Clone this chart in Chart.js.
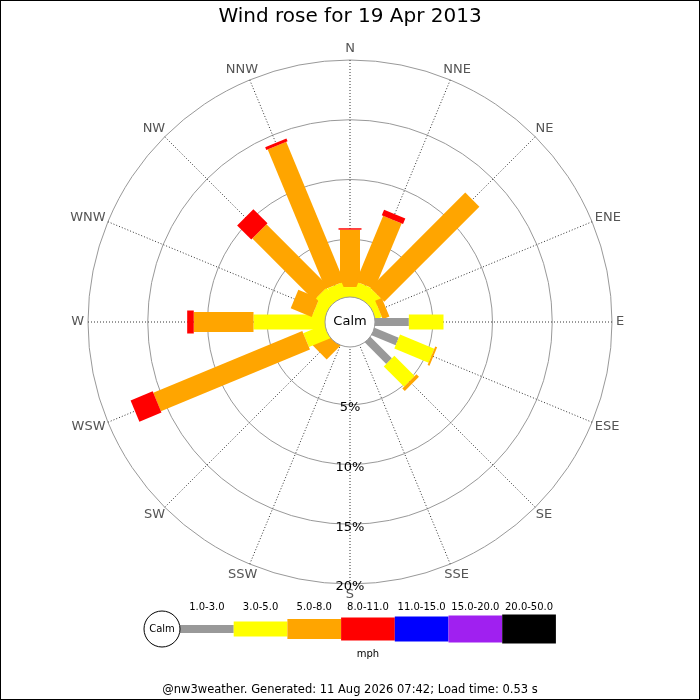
<!DOCTYPE html>
<html>
<head>
<meta charset="utf-8">
<title>Wind rose</title>
<script src="https://cdn.jsdelivr.net/npm/chart.js@4.4.1/dist/chart.umd.min.js"></script>
<style>
  html, body { margin: 0; padding: 0; background: #fff; }
  canvas { display: block; }
</style>
</head>
<body>
<canvas id="rose" width="700" height="700"></canvas>
<script>
// directions, clockwise from north
const directions = ['N', 'NNE', 'NE', 'ENE', 'E', 'ESE', 'SE', 'SSE', 'S', 'SSW', 'SW', 'WSW', 'W', 'WNW', 'NW', 'NNW'];

// speed bands (mph) and their colours / bar widths
const bandLabels = ['1.0-3.0', '3.0-5.0', '5.0-8.0', '8.0-11.0', '11.0-15.0', '15.0-20.0', '20.0-50.0'];
const bandColors = ['#999999', '#ffff00', '#ffa500', '#ff0000', '#0000ff', '#a020f0', '#000000'];
const bandWidths = [8, 15, 20, 23, 25, 27, 29];

// percent of time per direction for each band
const band1 = [0, 0, 0, 0, 3.0, 2.35, 2.7, 0, 0, 0, 0, 0, 0, 0, 0, 0];
const band2 = [1.0, 1.4, 1.3, 0.7, 2.9, 3.1, 2.4, 0, 0, 0, 0, 2.05, 6.15, 1.2, 1.5, 1.4];
const band3 = [4.8, 5.95, 11.25, 0.6, 0, 0.17, 0.3, 0, 0, 0, 1.67, 13.5, 5.0, 1.9, 7.3, 12.65];
const band4 = [0.12, 0.5, 0, 0, 0, 0, 0, 0, 0, 0, 0, 2.0, 0.55, 0, 1.67, 0.25];
const band5 = [0, 0, 0, 0, 0, 0, 0, 0, 0, 0, 0, 0, 0, 0, 0, 0];
const band6 = [0, 0, 0, 0, 0, 0, 0, 0, 0, 0, 0, 0, 0, 0, 0, 0];
const band7 = [0, 0, 0, 0, 0, 0, 0, 0, 0, 0, 0, 0, 0, 0, 0, 0];
const bands = [band1, band2, band3, band4, band5, band6, band7];

// radial rings
const ringTicks = [0, 5, 10, 15, 20];
const ringMin = -1.925;
const ringMax = 20;

const titleText = 'Wind rose for 19 Apr 2013';
const footerText = '@nw3weather. Generated: 11 Aug 2026 07:42; Load time: 0.53 s';

const FONT = '"DejaVu Sans", Verdana, sans-serif';

const rosePlugin = {
    id: 'rose',
    beforeDraw(chart) {
        const ctx = chart.ctx;
        ctx.save();
        ctx.fillStyle = '#fff';
        ctx.fillRect(0, 0, chart.width, chart.height);
        ctx.restore();
    },
    afterDatasetsDraw(chart) {
        const ctx = chart.ctx;
        const r = chart.scales.r;
        ctx.save();

        // stacked bars per direction
        directions.forEach((d, i) => {
            let start = 0;
            bands.forEach((band, b) => {
                const v = band[i];
                if (!v) return;
                const p0 = r.getPointPositionForValue(i, start);
                const p1 = r.getPointPositionForValue(i, start + v);
                ctx.beginPath();
                ctx.lineCap = 'butt';
                ctx.lineWidth = bandWidths[b];
                ctx.strokeStyle = bandColors[b];
                ctx.moveTo(p0.x, p0.y);
                ctx.lineTo(p1.x, p1.y);
                ctx.stroke();
                start += v;
            });
        });

        // calm circle
        ctx.beginPath();
        ctx.arc(r.xCenter, r.yCenter, 25, 0, Math.PI * 2);
        ctx.fillStyle = '#fff';
        ctx.fill();
        ctx.lineWidth = 1;
        ctx.strokeStyle = '#999';
        ctx.stroke();
        ctx.fillStyle = '#000';
        ctx.font = '13px ' + FONT;
        ctx.textAlign = 'center';
        ctx.textBaseline = 'middle';
        ctx.fillText('Calm', r.xCenter, r.yCenter);

        // direction labels
        ctx.font = '13px ' + FONT;
        ctx.fillStyle = '#555';
        directions.forEach((d, i) => {
            const a = i * Math.PI / 8;
            const w = ctx.measureText(d).width;
            const p = r.getPointPosition(i, r.drawingArea + 4);
            const x = p.x + Math.sin(a) * w / 2;
            const y = p.y - Math.cos(a) * 7;
            ctx.fillText(d, x, y);
        });

        // ring labels along the south line
        ctx.fillStyle = '#000';
        ringTicks.slice(1).forEach(v => {
            const p = r.getPointPositionForValue(8, v);
            ctx.fillText(v + '%', p.x, p.y + 3);
        });

        // title
        ctx.font = '20px ' + FONT;
        ctx.fillText(titleText, 350, 17);

        // legend
        const lx = 180, ly = 629, seg = 53.7;
        ctx.font = '10px ' + FONT;
        bandLabels.forEach((lab, b) => {
            const x = lx + b * seg;
            ctx.fillStyle = bandColors[b];
            ctx.fillRect(x, ly - bandWidths[b] / 2, seg, bandWidths[b]);
            ctx.fillStyle = '#000';
            ctx.fillText(lab, x + seg / 2, 607);
        });
        ctx.fillText('mph', lx + seg * 3.5, 654);
        ctx.beginPath();
        ctx.arc(162, ly, 18, 0, Math.PI * 2);
        ctx.fillStyle = '#fff';
        ctx.fill();
        ctx.strokeStyle = '#000';
        ctx.lineWidth = 1;
        ctx.stroke();
        ctx.fillStyle = '#000';
        ctx.fillText('Calm', 162, ly);

        // footer
        ctx.font = '11.5px ' + FONT;
        ctx.fillText(footerText, 350, 690);

        // frame
        ctx.strokeStyle = '#000';
        ctx.lineWidth = 1;
        ctx.strokeRect(0.5, 0.5, 699, 699);
        ctx.restore();
    }
};

new Chart(document.getElementById('rose'), {
    type: 'radar',
    data: {
        labels: directions,
        datasets: bands.map((band, b) => ({
            label: bandLabels[b],
            data: band,
            borderWidth: 0,
            pointRadius: 0,
            fill: false,
            borderColor: 'rgba(0,0,0,0)',
            backgroundColor: 'rgba(0,0,0,0)'
        }))
    },
    options: {
        responsive: false,
        animation: false,
        events: [],
        layout: { padding: { left: 88, right: 88, top: 60, bottom: 116 } },
        plugins: {
            legend: { display: false },
            title: { display: false },
            tooltip: { enabled: false }
        },
        scales: {
            r: {
                min: ringMin,
                max: ringMax,
                afterBuildTicks(scale) {
                    scale.ticks = ringTicks.map(v => ({ value: v }));
                },
                ticks: { display: false },
                pointLabels: { display: false },
                grid: { circular: true, color: '#999', lineWidth: 1 },
                angleLines: { color: '#333', lineWidth: 1, borderDash: [1, 2] }
            }
        }
    },
    plugins: [rosePlugin]
});
</script>
</body>
</html>
